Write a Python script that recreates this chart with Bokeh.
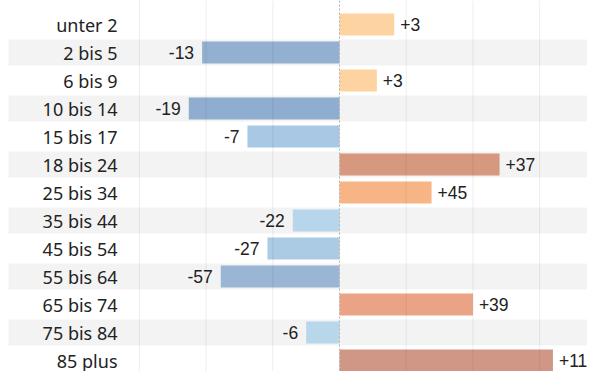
from bokeh.plotting import figure
from bokeh.models import ColumnDataSource, Range1d, Span
from bokeh.embed import file_html
from bokeh.resources import INLINE
from bokeh.core.properties import value

# ---- data ----
CATEGORIES = ["unter 2", "2 bis 5", "6 bis 9", "10 bis 14", "15 bis 17", "18 bis 24",
              "25 bis 34", "35 bis 44", "45 bis 54", "55 bis 64", "65 bis 74",
              "75 bis 84", "85 plus"]
BAR_VALUES = [4.1, -10.3, 2.8, -11.3, -6.9, 12.0, 6.9, -3.5, -5.4, -8.9, 10.0, -2.5, 16.0]
LABEL_VALUES = [3, -13, 3, -19, -7, 37, 45, -22, -27, -57, 39, -6, 11]
COLORS = ["#fdd3a2", "#93b0d0", "#fdd3a2", "#8fadce", "#a9c8e3", "#d6987f",
          "#f7b585", "#b8d6eb", "#abcae4", "#9ab6d4", "#eaa384", "#b8d7eb", "#d19786"]
GRID_TICKS = [-15, -10, -5, 5, 10, 15, 20]

# ---- layout ----
W, H = 587, 371
PX_PER_UNIT = 13.34
ZERO_PX = 339
X_LEFT = -ZERO_PX / PX_PER_UNIT
X_RIGHT = (W - ZERO_PX) / PX_PER_UNIT
BAND_LEFT = (8 - ZERO_PX) / PX_PER_UNIT
LABEL_X = (117 - ZERO_PX) / PX_PER_UNIT
ROW_PX = 28.0
FIRST_ROW_PX = 24.0
Y_TOP = -FIRST_ROW_PX / ROW_PX
Y_BOTTOM = Y_TOP + H / ROW_PX

idx = list(range(len(CATEGORIES)))
labels = [("+%d" % v) if v > 0 else ("%d" % v) for v in LABEL_VALUES]
aligns = ["left" if b >= 0 else "right" for b in BAR_VALUES]
offsets = [6 if b >= 0 else -8 for b in BAR_VALUES]

src = ColumnDataSource(dict(y=idx, cat=CATEGORIES, v=BAR_VALUES, col=COLORS,
                            lab=labels, al=aligns, off=offsets))
band_rows = [i for i in idx if i % 2 == 1]
band_src = ColumnDataSource(dict(y=band_rows))

p = figure(width=W, height=H, output_backend="svg", toolbar_location=None,
           x_range=Range1d(X_LEFT, X_RIGHT), y_range=Range1d(Y_BOTTOM, Y_TOP),
           min_border=0, min_border_left=0, min_border_right=0,
           min_border_top=0, min_border_bottom=0)
p.axis.visible = False
p.grid.visible = False
p.outline_line_color = None
p.background_fill_color = "white"
p.border_fill_color = "white"

# alternating row bands
p.hbar(y="y", left=BAND_LEFT, right=X_RIGHT, height=0.93, source=band_src,
       fill_color="#f3f3f3", line_color=None)

# bars
p.hbar(y="y", left=0, right="v", height=0.786, source=src,
       fill_color="col", line_color=None)

# grid lines (semi-transparent, over everything)
p.segment(x0=GRID_TICKS, x1=GRID_TICKS, y0=[Y_TOP] * len(GRID_TICKS),
          y1=[Y_BOTTOM] * len(GRID_TICKS), line_color="black", line_alpha=0.06,
          line_width=1.2)
p.add_layout(Span(location=0, dimension="height", line_color="#b0b0b0",
                  line_dash="2 2", line_width=1))

# category labels
p.text(x=LABEL_X, y="y", text="cat", source=src, text_align="right",
       text_baseline="middle", text_font=value("Noto Sans"),
       text_font_size="18px", text_color="#222222")

# value labels
p.text(x="v", y="y", text="lab", source=src, text_align="al", x_offset="off",
       text_baseline="middle", text_font=value("Liberation Sans"),
       text_font_size="17.5px", text_color="#222222")

open("out.html", "w").write(file_html(p, INLINE))
